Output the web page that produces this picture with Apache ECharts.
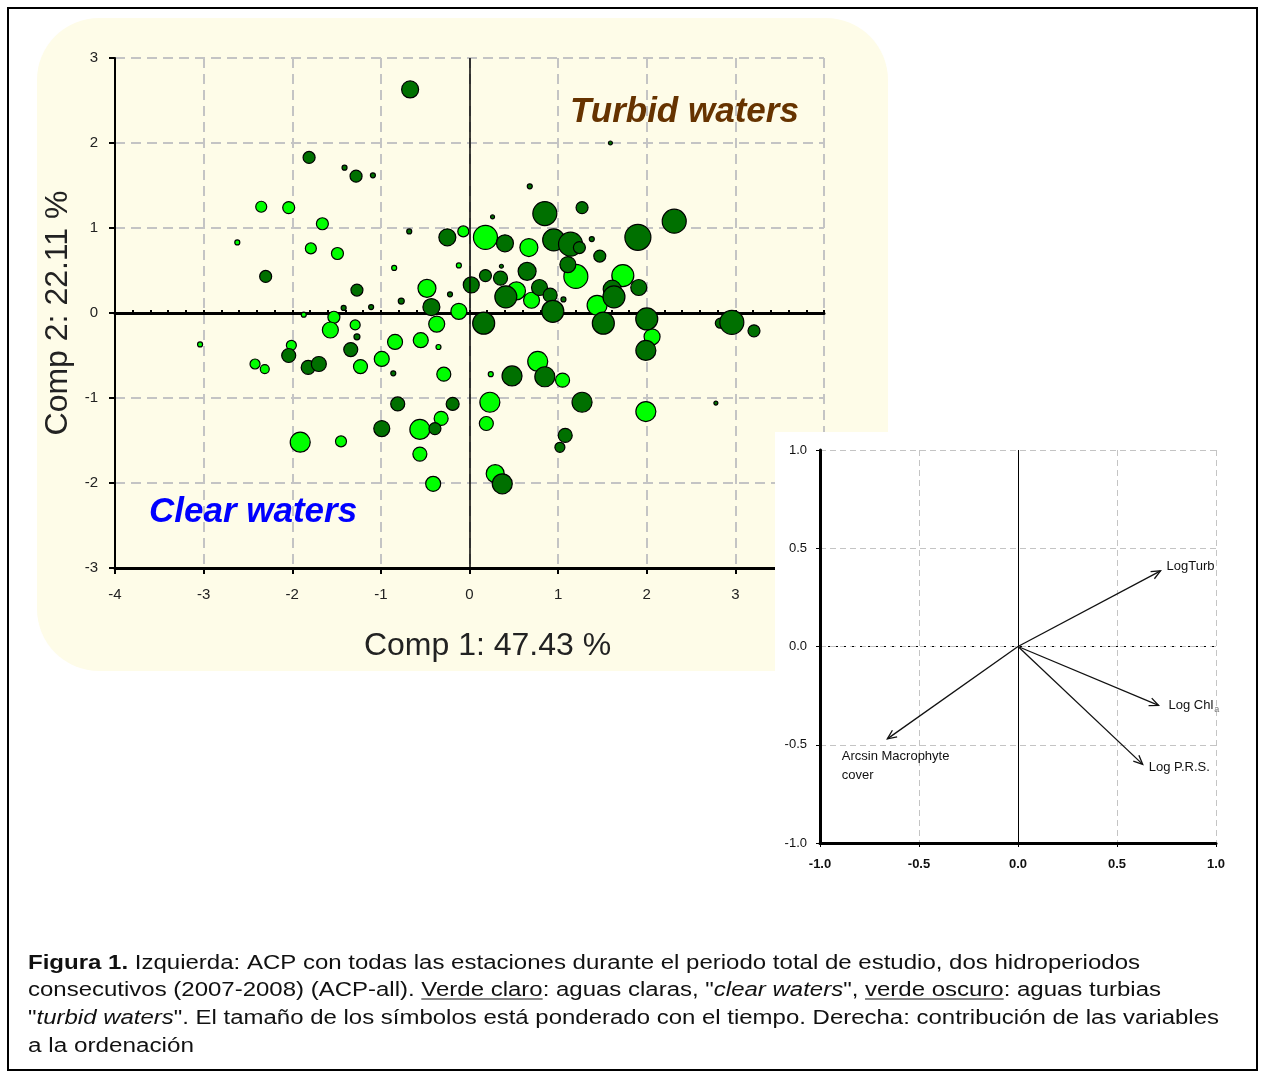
<!DOCTYPE html>
<html><head><meta charset="utf-8">
<script src="https://cdn.jsdelivr.net/npm/echarts@6/dist/echarts.min.js"></script>
<style>html,body{margin:0;padding:0;background:#fff}#c{width:1265px;height:1073px}</style>
</head><body><div id="c"></div>
<script>
// ---------- DATA ----------
// Main PCA scores, light green = clear waters
const clearX = [-2.35,-2.04,-1.66,-2.62,-1.79,-1.49,-0.07,0.18,-0.85,-0.12,-0.48,-0.12,-1.87,-1.53,-1.57,-0.37,-1.29,-3.04,-2.01,-2.42,-2.31,-1.23,-0.99,-0.84,-0.55,-0.35,-0.29,-0.56,-0.32,-0.56,-1.91,-1.45,-0.41,0.23,0.19,0.77,1.05,0.24,1.99,0.29,1.44,2.06,0.67,1.20,1.73,0.53,0.70];
const clearY = [1.25,1.24,1.05,0.83,0.76,0.70,0.96,0.89,0.53,0.56,0.29,0.02,-0.02,-0.05,-0.20,-0.13,-0.14,-0.37,-0.38,-0.60,-0.66,-0.63,-0.54,-0.34,-0.32,-0.40,-0.72,-1.37,-1.24,-1.66,-1.52,-1.51,-2.01,-1.05,-1.30,-0.57,-0.79,-0.72,-1.16,-1.89,0.09,-0.28,0.77,0.43,0.44,0.26,0.15];
const clearSize = [11,12,12,5,11,12,11,24,5,5,18,16,5,12,16,16,10,5,10,10,9,14,15,15,15,5,14,20,14,14,20,11,15,20,14,20,14,5,20,18,20,16,18,24,22,18,16];
// dark green = turbid waters
const turbidX = [-0.67,-1.81,-1.41,-1.28,-1.09,-0.68,-0.25,-2.30,0.02,-1.27,-0.22,-0.77,-0.43,-1.42,-1.11,-1.27,-2.04,-1.82,-1.70,-1.34,-0.86,-0.81,-0.19,-0.99,-0.39,0.85,0.48,1.27,2.78,1.08,1.02,0.37,0.16,1.51,2.00,1.99,2.83,2.96,3.21,1.59,0.68,0.85,1.27,0.26,2.31,1.90,0.40,0.95,1.14,1.24,1.38,1.47,1.11,0.36,0.18,0.35,0.65,1.91,1.61,1.63,0.41,0.79,0.91,1.06,0.94];
const turbidY = [2.63,1.83,1.71,1.61,1.62,0.96,0.89,0.43,0.33,0.27,0.22,0.14,0.07,0.06,0.07,-0.28,-0.50,-0.64,-0.60,-0.43,-0.71,-1.07,-1.07,-1.36,-1.36,-0.75,-0.74,-1.05,-1.06,-1.44,-1.58,-2.01,-0.12,-0.12,-0.07,-0.44,-0.12,-0.11,-0.21,2.00,1.49,1.17,1.24,1.13,1.08,0.89,0.82,0.86,0.81,0.77,0.87,0.67,0.57,0.55,0.44,0.41,0.49,0.30,0.28,0.19,0.19,0.30,0.21,0.16,0.02];
const turbidSize = [17,12,5,12,5,5,17,12,16,12,5,6,17,5,5,6,14,14,15,14,5,14,13,16,12,20,20,20,4,14,10,20,22,22,22,20,10,24,12,4,5,24,12,4,24,26,17,22,24,12,5,12,16,4,12,14,18,16,18,22,22,16,14,5,22];

// Variable loadings (inset)
const varNames = ['LogTurb', 'Log Chl{s|a}', 'Log P.R.S.', 'Arcsin Macrophyte\ncover'];
const loadX = [0.72, 0.71, 0.63, -0.66];
const loadY = [0.385, -0.30, -0.60, -0.47];

// Tick labels
const mainXTicks = ['-4','-3','-2','-1','0','1','2','3','4'];
const mainYTicks = ['-3','-2','-1','0','1','2','3'];
const insetTicks = ['-1.0','-0.5','0.0','0.5','1.0'];

// ---------- LAYOUT (not data) ----------
const varLabelPos = [[0.75,0.41],[0.76,-0.30],[0.66,-0.615],[-0.89,-0.607]];

const chart = echarts.init(document.getElementById('c'), null, {renderer:'canvas'});

const clearData = clearX.map((x,i)=>[x, clearY[i], clearSize[i]]);
const turbidData = turbidX.map((x,i)=>[x, turbidY[i], turbidSize[i]]);
const loadData = loadX.map((x,i)=>[x, loadY[i], varLabelPos[i][0], varLabelPos[i][1]]);

// ---------- Caption layout ----------
const captionLines = [
  [{t:'Figura 1.', b:1},{t:' Izquierda: ACP con todas las estaciones durante el periodo total de estudio, dos hidroperiodos'}],
  [{t:'consecutivos (2007-2008) (ACP-all). '},{t:'Verde claro',u:1},{t:': aguas claras, "'},{t:'clear waters',i:1},{t:'", '},{t:'verde oscuro',u:1},{t:': aguas turbias'}],
  [{t:'"'},{t:'turbid waters',i:1},{t:'". El tamaño de los símbolos está ponderado con el tiempo. Derecha: contribución de las variables'}],
  [{t:'a la ordenación'}]
];
const captionRight = [1140,1161,1219,194];
const captionY = [963,990,1018,1046];
const capFS = 20;
const fam = '"Liberation Sans", Arial, sans-serif';
const mctx = document.createElement('canvas').getContext('2d');
function fontOf(s){ return (s.i?'italic ':'')+(s.b?'bold ':'')+capFS+'px '+fam; }
const captionGraphics = captionLines.map((line, li)=>{
  let x = 0; const children = [];
  line.forEach(s=>{
    mctx.font = fontOf(s);
    const w = mctx.measureText(s.t).width;
    children.push({type:'text', x:x, y:0, style:{text:s.t, font:fontOf(s), fill:'#111', verticalAlign:'middle', align:'left'}});
    if (s.u) children.push({type:'line', shape:{x1:x, y1:9, x2:x+w, y2:9}, style:{stroke:'#111', lineWidth:1.2}});
    x += w;
  });
  return {type:'group', x:28, y:captionY[li], scaleX:(captionRight[li]-28)/x, z:5, children:children};
});

const gridDash = {color:'#c4c4c4', width:2, type:[10,6]};

const option = {
  animation:false,
  backgroundColor:'#ffffff',
  graphic:[
    {type:'rect', z:-10, shape:{x:37, y:18, width:851, height:653, r:62}, style:{fill:'#fefce8'}},
    {type:'rect', z:50, shape:{x:775, y:432, width:470, height:455}, style:{fill:'#ffffff'}},
    {type:'text', z:5, x:570, y:112, style:{text:'Turbid waters', font:'italic bold 35px '+fam, fill:'#663300', verticalAlign:'middle'}},
    {type:'text', z:5, x:149, y:512, style:{text:'Clear waters', font:'italic bold 35px '+fam, fill:'#0000ff', verticalAlign:'middle'}},
    {type:'rect', z:100, shape:{x:8, y:8, width:1249, height:1062}, style:{fill:null, stroke:'#000', lineWidth:2}}
  ].concat(captionGraphics),
  grid:[
    {left:115, top:58, width:709, height:510},
    {left:820, top:450, width:396, height:393}
  ],
  xAxis:[
    {gridIndex:0, type:'value', min:-4, max:4, interval:1, position:'bottom',
     axisLine:{onZero:false, lineStyle:{color:'#000', width:3}},
     axisTick:{show:true, length:6, lineStyle:{color:'#000', width:2}},
     axisLabel:{fontFamily:fam, fontSize:15, color:'#222', margin:19, formatter:(v)=>mainXTicks[Math.round(v)+4]},
     splitLine:{show:true, lineStyle:gridDash},
     name:'Comp 1: 47.43 %', nameLocation:'middle', nameGap:62,
     nameTextStyle:{fontFamily:fam, fontSize:32, color:'#222', padding:[0,0,0,36]}},
    {gridIndex:0, type:'value', min:-4, max:4, interval:1, position:'top',
     axisLine:{onZero:true, lineStyle:{color:'#000', width:3}},
     axisTick:{show:true, length:3, lineStyle:{color:'#000', width:2}},
     minorTick:{show:true, splitNumber:5, length:3, lineStyle:{color:'#000', width:2}},
     axisLabel:{show:false}, splitLine:{show:false}},
    {gridIndex:1, type:'value', min:-1, max:1, interval:0.5, z:60,
     axisLine:{onZero:false, lineStyle:{color:'#000', width:3}},
     axisTick:{show:true, length:4, lineStyle:{color:'#000', width:1}},
     axisLabel:{fontFamily:fam, fontSize:13, fontWeight:'bold', color:'#111', margin:15, formatter:(v)=>insetTicks[Math.round(v*2)+2]},
     splitLine:{show:true, lineStyle:{color:'#c4c4c4', width:1, type:[6,4]}}}
  ],
  yAxis:[
    {gridIndex:0, type:'value', min:-3, max:3, interval:1,
     axisLine:{onZero:false, lineStyle:{color:'#000', width:2}},
     axisTick:{show:true, length:6, lineStyle:{color:'#000', width:2}},
     axisLabel:{fontFamily:fam, fontSize:15, color:'#222', margin:17, formatter:(v)=>mainYTicks[Math.round(v)+3]},
     splitLine:{show:true, lineStyle:gridDash},
     name:'Comp 2: 22.11 %', nameLocation:'middle', nameGap:33,
     nameTextStyle:{fontFamily:fam, fontSize:32, color:'#222'}},
    {gridIndex:1, type:'value', min:-1, max:1, interval:0.5, z:60,
     axisLine:{onZero:false, lineStyle:{color:'#000', width:3}},
     axisTick:{show:true, length:4, lineStyle:{color:'#000', width:1}},
     axisLabel:{fontFamily:fam, fontSize:13, color:'#111', margin:13, formatter:(v)=>insetTicks[Math.round(v*2)+2]},
     splitLine:{show:true, lineStyle:{color:'#c4c4c4', width:1, type:[6,4]}}}
  ],
  series:[
    {type:'scatter', xAxisIndex:0, yAxisIndex:0, data:[], z:1, silent:true,
     markLine:{silent:true, symbol:'none', label:{show:false}, lineStyle:{color:'#000', width:1.5, type:'solid'},
       data:[{xAxis:0}]}},
    {type:'scatter', name:'clear', xAxisIndex:0, yAxisIndex:0, data:clearData, z:3,
     symbolSize:(v)=>v[2], itemStyle:{color:'#00ff00', borderColor:'#000', borderWidth:1.2, opacity:1}},
    {type:'scatter', name:'turbid', xAxisIndex:0, yAxisIndex:0, data:turbidData, z:4,
     symbolSize:(v)=>v[2], itemStyle:{color:'#007000', borderColor:'#000', borderWidth:1.2, opacity:1}},
    {type:'scatter', xAxisIndex:2, yAxisIndex:1, data:[], z:65, silent:true,
     markLine:{silent:true, symbol:'none', label:{show:false}, z:65,
       data:[{xAxis:0, lineStyle:{color:'#000', width:1, type:'solid'}},
             {yAxis:0, lineStyle:{color:'#000', width:1, type:[2,6]}}]}},
    {type:'custom', xAxisIndex:2, yAxisIndex:1, z:70, data:loadData, encode:{x:0, y:1},
     renderItem:function(params, api){
       const o = api.coord([0,0]);
       const t = api.coord([api.value(0), api.value(1)]);
       const ang = Math.atan2(t[1]-o[1], t[0]-o[0]);
       const L = 10, a = 0.42;
       const p1 = [t[0]-L*Math.cos(ang-a), t[1]-L*Math.sin(ang-a)];
       const p2 = [t[0]-L*Math.cos(ang+a), t[1]-L*Math.sin(ang+a)];
       const lp = api.coord([api.value(2), api.value(3)]);
       return {type:'group', children:[
         {type:'line', shape:{x1:o[0], y1:o[1], x2:t[0], y2:t[1]}, style:{stroke:'#111', lineWidth:1.3}},
         {type:'polyline', shape:{points:[p1, t, p2]}, style:{stroke:'#111', lineWidth:1.3, fill:null}},
         {type:'text', x:lp[0], y:lp[1], style:{text:varNames[params.dataIndex], fontFamily:fam, fontSize:13, fill:'#111',
           align:'left', verticalAlign:'middle', lineHeight:19,
           rich:{s:{fontSize:9, fill:'#777', fontFamily:fam, padding:[9,0,0,1]}}}}
       ]};
     }}
  ]
};
chart.setOption(option);
</script>
</body></html>
